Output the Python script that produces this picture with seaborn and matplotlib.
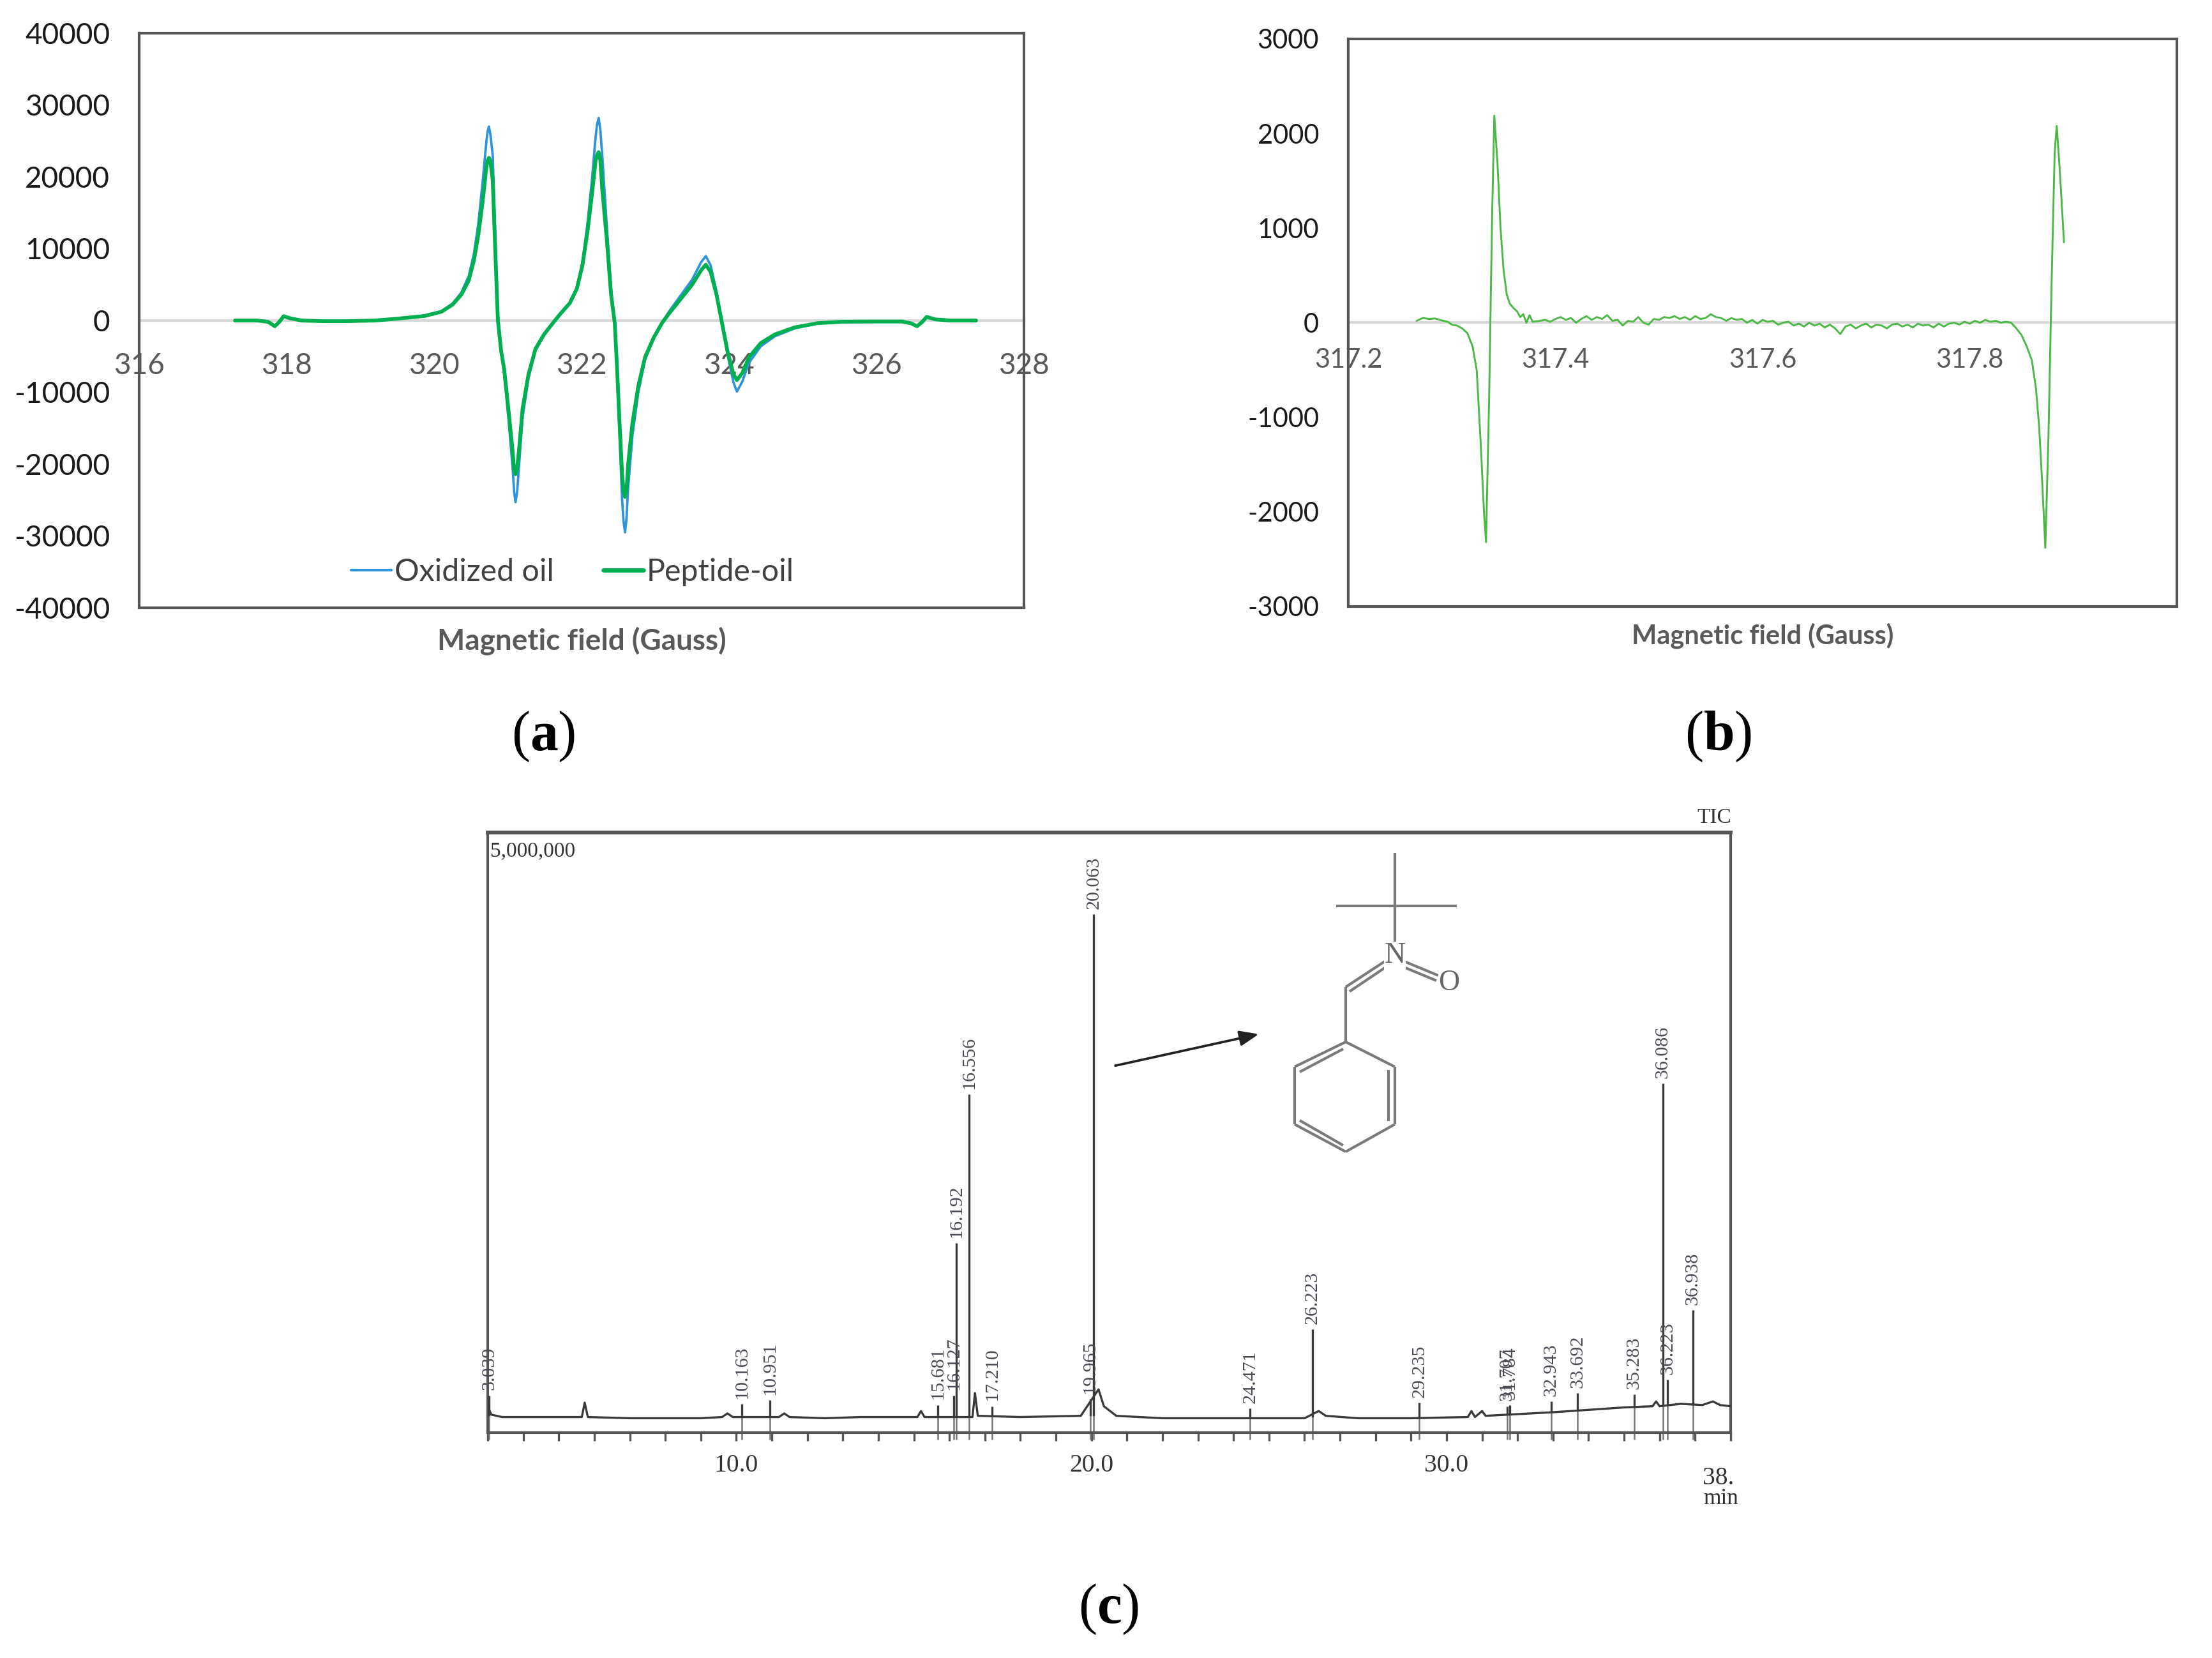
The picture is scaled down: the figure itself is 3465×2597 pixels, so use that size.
import numpy as np
import pandas as pd
import matplotlib
matplotlib.use("Agg")
import matplotlib.pyplot as plt
from matplotlib.ticker import MultipleLocator, FixedLocator
import seaborn as sns

# ---------------- data ----------------
# (a) EPR spectra
field_a = [317.3, 317.6, 317.75, 317.84, 317.9, 317.96, 318.05, 318.2, 318.5, 318.8,
           319.2, 319.48, 319.87, 320.10, 320.25, 320.37, 320.47, 320.54, 320.60, 320.66,
           320.71, 320.725, 320.744, 320.765, 320.795, 320.83, 320.865, 320.91, 320.95, 321.007,
           321.065, 321.085, 321.104, 321.125, 321.15, 321.20, 321.28, 321.375, 321.49, 321.61,
           321.72, 321.84, 321.935, 322.01, 322.08, 322.14, 322.19, 322.21, 322.232, 322.255,
           322.28, 322.34, 322.40, 322.45, 322.48, 322.515, 322.55, 322.57, 322.59, 322.61,
           322.63, 322.69, 322.77, 322.86, 322.98, 323.09, 323.19, 323.345, 323.50, 323.62,
           323.685, 323.75, 323.83, 323.905, 323.98, 324.06, 324.107, 324.18, 324.27, 324.43,
           324.62, 324.89, 325.20, 325.54, 326.0, 326.35, 326.47, 326.55, 326.62, 326.68,
           326.8, 327.0, 327.35]
peptide_oil = [0, 0, -200, -800, -200, 600, 300, 0, -100, -100,
               0, 230, 630, 1220, 2210, 3600, 5590, 8360, 11940, 16700,
               21460, 22200, 22650, 22100, 19480, 9550, 0, -4330, -6720, -12270,
               -18220, -20800, -21400, -20700, -18220, -12270, -7510, -3940, -1950, -370,
               1020, 2410, 4400, 7570, 12330, 17490, 22250, 23000, 23440, 22300,
               18280, 11540, 3600, -370, -6320, -14250, -21400, -23800, -24570, -23600,
               -20200, -14250, -9100, -5130, -2350, -370, 1020, 3000, 4990, 6980,
               7770, 6780, 3600, -370, -4330, -7510, -8300, -7310, -5130, -3150,
               -1950, -960, -370, -170, -150, -150, -400, -800, -200, 500,
               150, 0, 0]
oxidized_oil = [0, 0, -200, -800, -200, 600, 300, 0, -100, -100,
                0, 230, 650, 1280, 2350, 3900, 6200, 9300, 13500, 19500,
                25000, 26300, 27000, 25800, 23000, 12000, 1000, -4500, -7500, -13500,
                -20500, -23800, -25300, -24000, -20500, -13500, -8000, -4200, -2050, -400,
                1050, 2500, 4600, 8000, 13500, 19500, 25500, 27300, 28200, 26500,
                23000, 13500, 4500, -500, -7000, -16000, -25000, -28000, -29500, -27500,
                -23500, -16000, -10000, -5500, -2450, -300, 1300, 3500, 5700, 8100,
                8960, 7700, 4000, -300, -4800, -8600, -9890, -8500, -5900, -3600,
                -2200, -1100, -420, -190, -150, -150, -400, -800, -200, 500,
                150, 0, 0]

# (b) EPR spectrum, narrow field window
field_b = [317.266, 317.272, 317.278, 317.284, 317.290, 317.296, 317.300, 317.305, 317.310, 317.315,
           317.320, 317.324, 317.328, 317.331, 317.333, 317.336, 317.339, 317.341, 317.344, 317.347,
           317.350, 317.353, 317.356, 317.360, 317.363, 317.366, 317.369, 317.372, 317.375, 317.378,
           317.385, 317.390, 317.395, 317.400, 317.405, 317.410, 317.415, 317.420, 317.425, 317.430,
           317.435, 317.440, 317.445, 317.450, 317.455, 317.460, 317.465, 317.470, 317.475, 317.480,
           317.485, 317.490, 317.495, 317.500, 317.505, 317.510, 317.515, 317.520, 317.525, 317.530,
           317.535, 317.540, 317.545, 317.550, 317.555, 317.560, 317.565, 317.570, 317.575, 317.580,
           317.585, 317.590, 317.595, 317.600, 317.605, 317.610, 317.615, 317.620, 317.625, 317.630,
           317.635, 317.640, 317.645, 317.650, 317.655, 317.660, 317.665, 317.670, 317.675, 317.680,
           317.685, 317.690, 317.695, 317.700, 317.705, 317.710, 317.715, 317.720, 317.725, 317.730,
           317.735, 317.740, 317.745, 317.750, 317.755, 317.760, 317.765, 317.770, 317.775, 317.780,
           317.785, 317.790, 317.795, 317.800, 317.805, 317.810, 317.815, 317.820, 317.825, 317.830,
           317.835, 317.840, 317.845, 317.850, 317.855, 317.860, 317.864, 317.867, 317.870, 317.873,
           317.876, 317.879, 317.882, 317.884, 317.887, 317.891]
signal_b = [20, 50, 40, 45, 25, 10, -20, -30, -60, -110,
            -250, -500, -1300, -2000, -2320, -800, 1200, 2190, 1700, 1000,
            550, 300, 200, 150, 120, 60, 90, 0, 80, 10,
            20, 30, 10, 40, 60, 30, 50, 0, 40, 70,
            30, 60, 40, 80, 20, 30, -30, 20, 10, 60,
            0, -20, 40, 30, 60, 50, 70, 40, 60, 30,
            70, 40, 50, 90, 60, 50, 20, 50, 30, 40,
            0, 30, -10, 30, 10, 20, -20, 0, 10, -30,
            -10, -40, 0, -30, -10, -50, -20, -60, -120, -40,
            -20, -60, -30, -10, -50, -20, -30, -60, -20, -10,
            -40, -20, -50, -10, -30, -20, -50, -10, -40, -10,
            0, -20, 10, -10, 20, 0, 30, 10, 20, 0,
            10, 0, -60, -130, -250, -400, -700, -1100, -1700, -2380,
            -1200, 400, 1800, 2080, 1600, 850]

# (c) GC-MS total ion chromatogram
peak_times = [3.039, 10.163, 10.951, 15.681, 16.127, 16.192, 16.556, 17.210, 19.965, 20.063,
              24.471, 26.223, 29.235, 31.707, 31.784, 32.943, 33.692, 35.283, 36.086, 36.223, 36.938]
peak_heights = [0.31e6, 0.24e6, 0.27e6, 0.23e6, 0.31e6, 1.58e6, 2.82e6, 0.22e6, 0.28e6, 4.32e6,
                0.20e6, 0.86e6, 0.25e6, 0.22e6, 0.23e6, 0.26e6, 0.33e6, 0.32e6, 2.91e6, 0.44e6, 1.02e6]
peak_base = [0.14e6, 0.13e6, 0.13e6, 0.13e6, 0.13e6, 0.13e6, 0.13e6, 0.13e6, 0.14e6, 0.14e6,
             0.12e6, 0.13e6, 0.13e6, 0.15e6, 0.15e6, 0.17e6, 0.18e6, 0.21e6, 0.22e6, 0.23e6, 0.23e6]
peak_labels = ["3.039", "10.163", "10.951", "15.681", "16.127", "16.192", "16.556", "17.210",
               "19.965", "20.063", "24.471", "26.223", "29.235", "31.707", "31.784", "32.943",
               "33.692", "35.283", "36.086", "36.223", "36.938"]
base_times = [3.0, 3.1, 3.4, 4.5, 5.65, 5.73, 5.82, 7.0, 9.0, 9.6,
              9.75, 9.9, 11.2, 11.35, 11.5, 12.5, 13.5, 14.8, 15.1, 15.2,
              15.3, 16.65, 16.72, 16.8, 18.0, 19.7, 20.2, 20.35, 20.7, 22.0,
              24.0, 26.0, 26.4, 26.6, 27.5, 29.0, 30.6, 30.7, 30.8, 31.0,
              31.1, 33.0, 35.0, 35.8, 35.9, 36.0, 36.6, 37.2, 37.5, 37.7, 38.0]
base_values = [0.22e6, 0.15e6, 0.13e6, 0.13e6, 0.13e6, 0.25e6, 0.13e6, 0.12e6, 0.12e6, 0.13e6,
               0.16e6, 0.13e6, 0.13e6, 0.16e6, 0.13e6, 0.12e6, 0.13e6, 0.13e6, 0.13e6, 0.18e6,
               0.13e6, 0.13e6, 0.33e6, 0.14e6, 0.13e6, 0.14e6, 0.36e6, 0.22e6, 0.14e6, 0.12e6,
               0.12e6, 0.12e6, 0.18e6, 0.14e6, 0.12e6, 0.12e6, 0.13e6, 0.18e6, 0.13e6, 0.18e6,
               0.14e6, 0.17e6, 0.21e6, 0.22e6, 0.26e6, 0.22e6, 0.24e6, 0.23e6, 0.26e6, 0.23e6, 0.22e6]

xticks_a = [316, 318, 320, 322, 324, 326, 328]
yticks_a = [-40000, -30000, -20000, -10000, 0, 10000, 20000, 30000, 40000]
xticks_b = [317.2, 317.4, 317.6, 317.8]
yticks_b = [-3000, -2000, -1000, 0, 1000, 2000, 3000]
xticks_c = [10, 20, 30]
xticklabels_c = ["10.0", "20.0", "30.0"]

# ---------------- style ----------------
sns.set_theme(style="white")
plt.rcParams["font.family"] = ["Lato", "DejaVu Sans"]
plt.rcParams["axes.unicode_minus"] = False
plt.rcParams["mathtext.fontset"] = "custom"
plt.rcParams["mathtext.rm"] = "Liberation Serif"
plt.rcParams["mathtext.bf"] = "Liberation Serif:bold"

W, H = 3465, 2597
fig = plt.figure(figsize=(W / 300, H / 300), dpi=300)

def frac(x0, y0, x1, y1):
    return [x0 / W, 1 - y1 / H, (x1 - x0) / W, (y1 - y0) / H]

spine_col = "#555555"

# ---------------- panel (a) ----------------
ax_a = fig.add_axes(frac(218, 52, 1604, 952))
ax_a.axhline(0, color="#D9D9D9", lw=1.0, zorder=1)
sns.lineplot(x=field_a, y=oxidized_oil, ax=ax_a, color="#2E93D9", lw=0.9,
             label="Oxidized oil", sort=False, zorder=3)
sns.lineplot(x=field_a, y=peptide_oil, ax=ax_a, color="#00B050", lw=1.4,
             label="Peptide-oil", sort=False, zorder=4)
for ln in ax_a.lines:
    ln.set_solid_joinstyle("round")
ax_a.set_xlim(316, 328)
ax_a.set_ylim(-40000, 40000)
ax_a.set_yticks(yticks_a)
ax_a.set_yticklabels([str(v) for v in yticks_a])
ax_a.tick_params(axis="y", length=0, pad=11, labelsize=11, labelcolor="#1a1a1a")
ax_a.set_xticks([])
sec_a = ax_a.secondary_xaxis(0.5)
sec_a.set_alignment("bottom")
sec_a.set_xticks(xticks_a)
sec_a.set_xticklabels([str(v) for v in xticks_a])
sec_a.tick_params(length=0, pad=12, labelsize=11, labelcolor="#595959")
for s in sec_a.spines.values():
    s.set_visible(False)
ax_a.set_xlabel("Magnetic field (Gauss)", fontsize=11, fontweight="bold",
                color="#595959", labelpad=7)
ax_a.set_ylabel("")
for s in ax_a.spines.values():
    s.set_color(spine_col)
    s.set_linewidth(1.0)
leg = ax_a.legend(loc="lower center", bbox_to_anchor=(0.49, 0.0), ncol=2, frameon=False,
                  fontsize=11.6, handlelength=1.3, handletextpad=0.1, columnspacing=1.6,
                  borderaxespad=0.3)
for t in leg.get_texts():
    t.set_color("#404040")
leg.get_lines()[0].set_linewidth(1.0)
leg.get_lines()[1].set_linewidth(1.6)

# ---------------- panel (b) ----------------
ax_b = fig.add_axes(frac(2112, 61, 3410, 950))
ax_b.axhline(0, color="#D9D9D9", lw=1.0, zorder=1)
sns.lineplot(x=field_b, y=signal_b, ax=ax_b, color="#4DB848", lw=0.7, sort=False, zorder=3)
ax_b.set_xlim(317.2, 318.0)
ax_b.set_ylim(-3000, 3000)
ax_b.set_yticks(yticks_b)
ax_b.set_yticklabels([str(v) for v in yticks_b])
ax_b.tick_params(axis="y", length=0, pad=11, labelsize=10, labelcolor="#1a1a1a")
ax_b.set_xticks([])
sec_b = ax_b.secondary_xaxis(0.5)
sec_b.set_alignment("bottom")
sec_b.set_xticks(xticks_b)
sec_b.set_xticklabels([f"{v:.1f}" for v in xticks_b])
sec_b.tick_params(length=0, pad=9.5, labelsize=10, labelcolor="#595959")
for s in sec_b.spines.values():
    s.set_visible(False)
ax_b.set_xlabel("Magnetic field (Gauss)", fontsize=10, fontweight="bold",
                color="#595959", labelpad=6)
ax_b.set_ylabel("")
for s in ax_b.spines.values():
    s.set_color(spine_col)
    s.set_linewidth(1.0)

# ---------------- panel (c) ----------------
serif = ["Liberation Serif", "DejaVu Serif"]
ax_c = fig.add_axes(frac(764, 1304, 2711, 2244))
trace_col = "#3a3a3a"
sns.lineplot(x=base_times, y=base_values, ax=ax_c, color=trace_col, lw=0.8, sort=False, zorder=3)
ax_c.vlines(peak_times, peak_base, peak_heights, color=trace_col, lw=0.8, zorder=3)
ax_c.vlines(peak_times, [-0.06e6] * len(peak_times), peak_base, color="#777777",
            lw=0.6, zorder=2, clip_on=False)
for t, h, lab in zip(peak_times, peak_heights, peak_labels):
    ax_c.annotate(lab, xy=(t, h), xytext=(0, 2), textcoords="offset points",
                  rotation=90, ha="center", va="bottom", fontsize=7.2,
                  family=serif, color="#4a4a55")
ax_c.set_xlim(3.0, 38.0)
ax_c.set_ylim(0, 5e6)
ax_c.set_yticks([])
ax_c.xaxis.set_major_locator(FixedLocator(xticks_c))
ax_c.set_xticklabels(xticklabels_c)
ax_c.xaxis.set_minor_locator(MultipleLocator(1))
ax_c.tick_params(axis="x", which="both", direction="out", length=3, width=0.8,
                 color="#555555", bottom=True, pad=5)
ax_c.tick_params(axis="x", which="major", labelsize=9.5, labelcolor="#333333")
for lab in ax_c.get_xticklabels():
    lab.set_family(serif)
ax_c.set_xlabel("")
ax_c.set_ylabel("")
for s in ax_c.spines.values():
    s.set_color("#555555")
    s.set_linewidth(1.0)
ax_c.spines["top"].set_linewidth(1.4)
ax_c.text(0.002, 0.985, "5,000,000", transform=ax_c.transAxes, ha="left", va="top",
          fontsize=8, family=serif, color="#333333")
ax_c.text(0.987, 1.008, "TIC", transform=ax_c.transAxes, ha="center", va="bottom",
          fontsize=8, family=serif, color="#333333")
ax_c.text(1.003, -0.056, "38.", transform=ax_c.transAxes, ha="right", va="top",
          fontsize=9.5, family=serif, color="#333333")
ax_c.text(0.992, -0.128, "min", transform=ax_c.transAxes, ha="center", va="bottom",
          fontsize=8.5, family=serif, color="#333333")

# PBN structure (drawn in axes fraction, from reference pixel layout)
def P(X, Y):
    return ((X - 764) / 1947, (2244 - Y) / 940)

mol_col = "#7a7a7a"
def seg(p, q, lw=1.0):
    (x0, y0), (x1, y1) = P(*p), P(*q)
    ax_c.plot([x0, x1], [y0, y1], transform=ax_c.transAxes, color=mol_col, lw=lw,
              solid_capstyle="butt", zorder=4)

seg((2185, 1336), (2185, 1486))
seg((2093, 1419), (2282, 1419))
seg((2200, 1506), (2253, 1528))
seg((2197, 1514), (2250, 1536))
seg((2108, 1546), (2172, 1504))
seg((2114, 1553), (2175, 1512))
seg((2108, 1546), (2108, 1632))
hexa = [(2108, 1632), (2185, 1671), (2185, 1761), (2108, 1804), (2028, 1761), (2028, 1671), (2108, 1632)]
for p, q in zip(hexa[:-1], hexa[1:]):
    seg(p, q)
seg((2036, 1679), (2104, 1643))
seg((2175, 1676), (2175, 1756))
seg((2036, 1755), (2104, 1794))
nx, ny = P(2185, 1497)
ax_c.text(nx, ny, "N", transform=ax_c.transAxes, ha="center", va="center",
          fontsize=11, family=serif, color="#666666", zorder=5,
          bbox=dict(facecolor="white", edgecolor="none", pad=0.2))
ox, oy = P(2270, 1540)
ax_c.text(ox, oy, "O", transform=ax_c.transAxes, ha="center", va="center",
          fontsize=11, family=serif, color="#666666", zorder=5,
          bbox=dict(facecolor="white", edgecolor="none", pad=0.2))
ax_c.annotate("", xy=P(1980, 1618), xytext=P(1739, 1671),
              xycoords="axes fraction", textcoords="axes fraction",
              arrowprops=dict(arrowstyle="-|>,head_length=0.5,head_width=0.2",
                              color="#222222", lw=0.9))

# ---------------- panel letters ----------------
for (X, Y), letter in [((851, 1154), "a"), ((2692, 1154), "b"), ((1737, 2521), "c")]:
    fig.text(X / W, 1 - Y / H, "(" + r"$\mathbf{" + letter + "}$" + ")", ha="center",
             va="center", fontsize=21, family=serif, color="black")

fig.savefig("out.png", dpi=300)
